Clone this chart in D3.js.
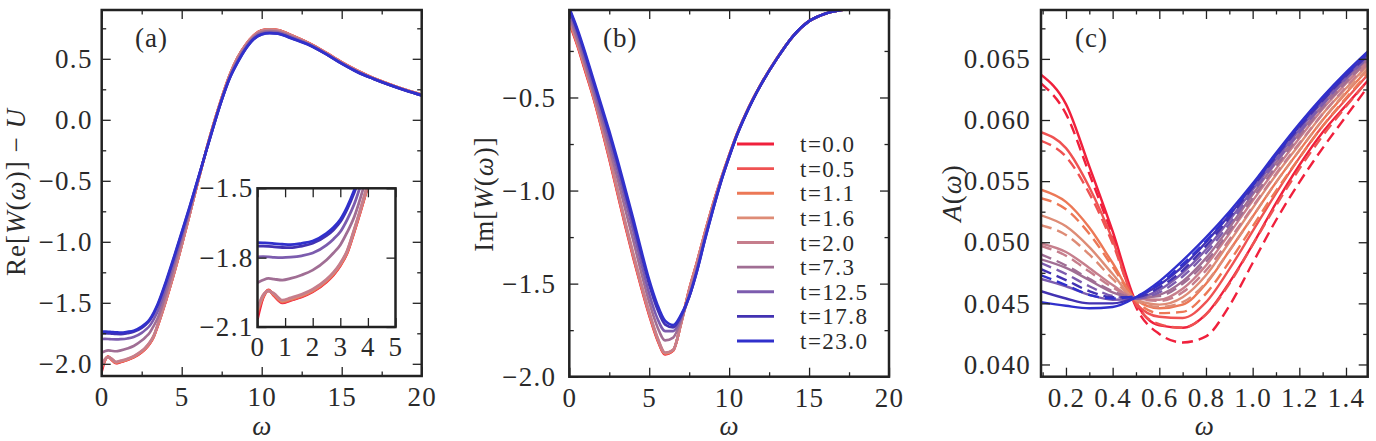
<!DOCTYPE html>
<html>
<head>
<meta charset="utf-8">
<script src="https://cdn.jsdelivr.net/npm/d3@7"></script>
<style>
    body { margin: 0; background: #fff; }
    svg text { font-family: "Liberation Serif", serif !important; fill: #2a2a2a; }
</style>
</head>
<body>
<div id="chart"></div>
<script>

// ---- data ----
const times = ["t=0.0", "t=0.5", "t=1.1", "t=1.6", "t=2.0", "t=7.3", "t=12.5", "t=17.8", "t=23.0"]
const colors = ["#f0203c", "#ef5252", "#ec7856", "#de8c76", "#c67e8c", "#a06e94", "#7c5cae", "#4232b2", "#3030cc"]

// panel (a): Re[W(w)] - U
const omegaA = [0, 0.2, 0.4, 0.6, 0.9, 1.2, 1.6, 2, 2.5, 2.75, 3, 3.25, 3.5, 4, 4.5, 5, 5.5, 6, 6.5, 7, 7.5, 8, 8.5, 9, 9.5, 10, 10.5, 11, 12, 13, 14, 15, 16, 17, 18, 19, 20]
const reW = [
    [-2.065, -1.975, -1.940, -1.965, -1.996, -1.985, -1.970, -1.948, -1.905, -1.875, -1.835, -1.780, -1.690, -1.490, -1.270, -1.030, -0.775, -0.515, -0.265, -0.032, 0.180, 0.368, 0.512, 0.616, 0.692, 0.733, 0.742, 0.736, 0.686, 0.626, 0.552, 0.472, 0.402, 0.342, 0.292, 0.246, 0.206],
    [-2.040, -1.972, -1.942, -1.963, -1.993, -1.983, -1.968, -1.946, -1.903, -1.873, -1.833, -1.778, -1.688, -1.488, -1.268, -1.028, -0.773, -0.514, -0.264, -0.032, 0.179, 0.367, 0.511, 0.615, 0.691, 0.732, 0.741, 0.735, 0.685, 0.625, 0.551, 0.471, 0.401, 0.341, 0.291, 0.245, 0.205],
    [-2.030, -1.968, -1.943, -1.960, -1.990, -1.980, -1.965, -1.943, -1.900, -1.870, -1.830, -1.775, -1.685, -1.485, -1.265, -1.026, -0.771, -0.513, -0.264, -0.033, 0.178, 0.366, 0.510, 0.614, 0.690, 0.731, 0.740, 0.734, 0.684, 0.624, 0.550, 0.470, 0.400, 0.340, 0.290, 0.245, 0.205],
    [-2.025, -1.965, -1.944, -1.958, -1.987, -1.977, -1.962, -1.940, -1.897, -1.867, -1.827, -1.772, -1.682, -1.482, -1.262, -1.024, -0.770, -0.512, -0.264, -0.033, 0.177, 0.365, 0.509, 0.613, 0.689, 0.730, 0.739, 0.733, 0.683, 0.623, 0.549, 0.469, 0.399, 0.339, 0.289, 0.244, 0.204],
    [-2.020, -1.962, -1.945, -1.955, -1.984, -1.974, -1.959, -1.937, -1.894, -1.864, -1.824, -1.769, -1.679, -1.479, -1.259, -1.022, -0.769, -0.511, -0.264, -0.034, 0.176, 0.364, 0.508, 0.612, 0.688, 0.729, 0.738, 0.732, 0.682, 0.622, 0.548, 0.468, 0.398, 0.338, 0.288, 0.244, 0.204],
    [-1.909, -1.897, -1.890, -1.893, -1.897, -1.890, -1.875, -1.854, -1.810, -1.780, -1.745, -1.690, -1.625, -1.430, -1.210, -0.980, -0.745, -0.505, -0.268, -0.042, 0.168, 0.352, 0.492, 0.598, 0.677, 0.717, 0.727, 0.721, 0.673, 0.617, 0.545, 0.465, 0.395, 0.337, 0.287, 0.243, 0.203],
    [-1.797, -1.796, -1.797, -1.799, -1.800, -1.798, -1.792, -1.780, -1.746, -1.720, -1.688, -1.635, -1.570, -1.380, -1.170, -0.950, -0.727, -0.497, -0.268, -0.046, 0.163, 0.345, 0.480, 0.588, 0.668, 0.708, 0.718, 0.713, 0.666, 0.613, 0.542, 0.462, 0.392, 0.336, 0.286, 0.241, 0.201],
    [-1.750, -1.750, -1.751, -1.753, -1.756, -1.757, -1.750, -1.738, -1.705, -1.680, -1.645, -1.590, -1.520, -1.340, -1.140, -0.928, -0.715, -0.492, -0.269, -0.049, 0.161, 0.341, 0.473, 0.582, 0.662, 0.702, 0.712, 0.707, 0.662, 0.611, 0.540, 0.460, 0.390, 0.335, 0.285, 0.240, 0.200],
    [-1.735, -1.736, -1.737, -1.739, -1.742, -1.744, -1.738, -1.728, -1.695, -1.670, -1.635, -1.580, -1.510, -1.330, -1.130, -0.920, -0.710, -0.490, -0.270, -0.050, 0.160, 0.340, 0.470, 0.580, 0.660, 0.700, 0.710, 0.705, 0.660, 0.610, 0.540, 0.460, 0.390, 0.335, 0.285, 0.240, 0.200]
]

// panel (b): Im[W(w)]
const omegaB = [0, 0.5, 1, 1.5, 2, 2.5, 3, 3.5, 4, 4.5, 5, 5.5, 6, 6.5, 7, 7.5, 8, 8.5, 9, 9.5, 10, 10.5, 11, 11.5, 12, 13, 14, 15, 16, 17, 18, 19, 20]
const imW = [
    [-0.100, -0.220, -0.360, -0.500, -0.660, -0.830, -1.010, -1.190, -1.360, -1.520, -1.670, -1.800, -1.880, -1.860, -1.710, -1.530, -1.380, -1.220, -1.070, -0.935, -0.810, -0.693, -0.594, -0.506, -0.427, -0.288, -0.170, -0.090, -0.050, -0.030, -0.020, -0.010, -0.005],
    [-0.095, -0.215, -0.354, -0.495, -0.655, -0.824, -1.004, -1.184, -1.354, -1.515, -1.665, -1.796, -1.877, -1.858, -1.710, -1.532, -1.381, -1.221, -1.071, -0.936, -0.811, -0.694, -0.595, -0.506, -0.427, -0.288, -0.170, -0.090, -0.050, -0.030, -0.020, -0.010, -0.005],
    [-0.090, -0.210, -0.348, -0.490, -0.650, -0.818, -0.998, -1.178, -1.348, -1.510, -1.660, -1.792, -1.875, -1.857, -1.710, -1.534, -1.383, -1.223, -1.073, -0.937, -0.812, -0.695, -0.595, -0.507, -0.428, -0.288, -0.170, -0.090, -0.050, -0.030, -0.020, -0.010, -0.005],
    [-0.086, -0.206, -0.343, -0.485, -0.645, -0.813, -0.993, -1.173, -1.343, -1.505, -1.656, -1.788, -1.873, -1.856, -1.710, -1.536, -1.385, -1.225, -1.075, -0.938, -0.813, -0.695, -0.596, -0.507, -0.428, -0.289, -0.170, -0.090, -0.050, -0.030, -0.020, -0.010, -0.005],
    [-0.082, -0.202, -0.338, -0.480, -0.640, -0.808, -0.988, -1.168, -1.338, -1.500, -1.652, -1.785, -1.870, -1.855, -1.710, -1.538, -1.387, -1.227, -1.077, -0.939, -0.814, -0.696, -0.596, -0.507, -0.428, -0.289, -0.170, -0.090, -0.050, -0.030, -0.020, -0.010, -0.005],
    [-0.060, -0.185, -0.322, -0.468, -0.617, -0.770, -0.930, -1.100, -1.268, -1.440, -1.600, -1.730, -1.805, -1.790, -1.693, -1.565, -1.415, -1.246, -1.089, -0.943, -0.815, -0.697, -0.597, -0.508, -0.428, -0.289, -0.170, -0.090, -0.050, -0.030, -0.020, -0.010, -0.005],
    [-0.040, -0.160, -0.295, -0.440, -0.585, -0.730, -0.885, -1.050, -1.215, -1.390, -1.555, -1.685, -1.755, -1.755, -1.680, -1.570, -1.422, -1.252, -1.094, -0.946, -0.817, -0.698, -0.598, -0.509, -0.429, -0.290, -0.170, -0.090, -0.050, -0.030, -0.020, -0.010, -0.005],
    [-0.025, -0.140, -0.272, -0.413, -0.555, -0.697, -0.848, -1.010, -1.172, -1.343, -1.505, -1.635, -1.720, -1.735, -1.672, -1.572, -1.428, -1.257, -1.098, -0.949, -0.819, -0.700, -0.600, -0.510, -0.430, -0.290, -0.170, -0.090, -0.050, -0.030, -0.020, -0.010, -0.005],
    [-0.020, -0.130, -0.260, -0.400, -0.540, -0.680, -0.830, -0.990, -1.150, -1.320, -1.480, -1.610, -1.700, -1.722, -1.665, -1.570, -1.430, -1.260, -1.100, -0.950, -0.820, -0.700, -0.600, -0.510, -0.430, -0.290, -0.170, -0.090, -0.050, -0.030, -0.020, -0.010, -0.005]
]

// panel (c): A(w), solid and dashed
const omegaC = [0.093, 0.2, 0.3, 0.4, 0.5, 0.6, 0.7, 0.8, 0.9, 1.0, 1.1, 1.2, 1.3, 1.4, 1.493]
const aSolid = [
    [0.0637, 0.0613, 0.0562, 0.0509, 0.0451, 0.0432, 0.0430, 0.0441, 0.0467, 0.0498, 0.0532, 0.0563, 0.0590, 0.0612, 0.0632],
    [0.0590, 0.0577, 0.0545, 0.0502, 0.0450, 0.0439, 0.0438, 0.0451, 0.0478, 0.0509, 0.0540, 0.0569, 0.0595, 0.0617, 0.0637],
    [0.0543, 0.0533, 0.0512, 0.0483, 0.0453, 0.0446, 0.0449, 0.0466, 0.0493, 0.0521, 0.0549, 0.0575, 0.0600, 0.0622, 0.0641],
    [0.0522, 0.0513, 0.0496, 0.0474, 0.0453, 0.0449, 0.0455, 0.0473, 0.0500, 0.0528, 0.0555, 0.0580, 0.0605, 0.0626, 0.0645],
    [0.0499, 0.0492, 0.0479, 0.0465, 0.0454, 0.0453, 0.0462, 0.0481, 0.0507, 0.0534, 0.0560, 0.0585, 0.0609, 0.0630, 0.0648],
    [0.0486, 0.0479, 0.0469, 0.0459, 0.0454, 0.0457, 0.0468, 0.0487, 0.0512, 0.0539, 0.0565, 0.0589, 0.0612, 0.0633, 0.0650],
    [0.0470, 0.0464, 0.0457, 0.0453, 0.0454, 0.0461, 0.0475, 0.0494, 0.0518, 0.0543, 0.0568, 0.0592, 0.0615, 0.0635, 0.0652],
    [0.0460, 0.0454, 0.0450, 0.0450, 0.0455, 0.0465, 0.0480, 0.0500, 0.0522, 0.0546, 0.0571, 0.0595, 0.0617, 0.0637, 0.0654],
    [0.0451, 0.0448, 0.0446, 0.0447, 0.0455, 0.0468, 0.0485, 0.0504, 0.0525, 0.0548, 0.0573, 0.0597, 0.0619, 0.0639, 0.0656]
]
const aDashed = [
    [0.0630, 0.0605, 0.0556, 0.0505, 0.0447, 0.0425, 0.0418, 0.0423, 0.0448, 0.0483, 0.0518, 0.0549, 0.0577, 0.0603, 0.0627],
    [0.0583, 0.0570, 0.0540, 0.0499, 0.0449, 0.0433, 0.0430, 0.0441, 0.0466, 0.0498, 0.0530, 0.0560, 0.0587, 0.0611, 0.0632],
    [0.0536, 0.0527, 0.0507, 0.0480, 0.0452, 0.0442, 0.0443, 0.0458, 0.0484, 0.0513, 0.0542, 0.0569, 0.0595, 0.0618, 0.0638],
    [0.0514, 0.0506, 0.0490, 0.0470, 0.0453, 0.0447, 0.0451, 0.0467, 0.0493, 0.0521, 0.0549, 0.0575, 0.0600, 0.0623, 0.0642],
    [0.0497, 0.0489, 0.0476, 0.0463, 0.0454, 0.0452, 0.0459, 0.0477, 0.0502, 0.0529, 0.0556, 0.0581, 0.0605, 0.0627, 0.0646],
    [0.0490, 0.0481, 0.0470, 0.0460, 0.0455, 0.0456, 0.0466, 0.0484, 0.0509, 0.0536, 0.0562, 0.0587, 0.0610, 0.0631, 0.0649],
    [0.0483, 0.0474, 0.0464, 0.0456, 0.0454, 0.0459, 0.0472, 0.0491, 0.0515, 0.0541, 0.0566, 0.0590, 0.0613, 0.0634, 0.0651],
    [0.0478, 0.0469, 0.0460, 0.0455, 0.0455, 0.0463, 0.0477, 0.0497, 0.0520, 0.0545, 0.0570, 0.0594, 0.0616, 0.0636, 0.0653],
    [0.0473, 0.0465, 0.0457, 0.0454, 0.0456, 0.0466, 0.0482, 0.0501, 0.0523, 0.0547, 0.0572, 0.0596, 0.0618, 0.0638, 0.0655]
]

// tick values
const ticksA = {xMajor: [0, 5, 10, 15, 20], xMinor: [2.5, 7.5, 12.5, 17.5], yMajor: [-2.0, -1.5, -1.0, -0.5, 0.0, 0.5], yMinor: [-1.75, -1.25, -0.75, -0.25, 0.25, 0.75]}
const ticksInset = {xMajor: [0, 1, 2, 3, 4, 5], xMinor: [], yMajor: [-2.1, -1.8, -1.5], yMinor: []}
const ticksB = {xMajor: [0, 5, 10, 15, 20], xMinor: [2.5, 7.5, 12.5, 17.5], yMajor: [-2.0, -1.5, -1.0, -0.5], yMinor: [-1.75, -1.25, -0.75, -0.25]}
const ticksC = {xMajor: [0.2, 0.4, 0.6, 0.8, 1.0, 1.2, 1.4], xMinor: [0.1, 0.3, 0.5, 0.7, 0.9, 1.1, 1.3], yMajor: [0.040, 0.045, 0.050, 0.055, 0.060, 0.065], yMinor: [0.0425, 0.0475, 0.0525, 0.0575, 0.0625, 0.0675]}


const W = 1376, H = 441
const FONT = 27
const SERIF = "Liberation Serif, serif"

const svg = d3.select("#chart").append("svg")
    .attr("width", W)
    .attr("height", H)

let clipId = 0

// serif text helper, style wins over anything the axis sets
function serif(sel, size, spacing) {
    return sel.style("font-family", SERIF)
        .style("font-size", size + "px")
        .style("letter-spacing", (spacing || 0) + "px")
        .attr("fill", "#2a2a2a")
}

// draws frame + inward ticks on all four sides, returns a clipped group for lines
function makeFrame(x, y, t, opt) {
    let g = svg.append("g")
    let [x0, x1] = x.range()
    let [y0, y1] = y.range()   // y0 = bottom, y1 = top

    g.append("rect")
        .attr("x", x0).attr("y", y1)
        .attr("width", x1 - x0).attr("height", y0 - y1)
        .attr("fill", "#fff")

    clipId++
    svg.append("clipPath").attr("id", "clip" + clipId)
        .append("rect")
        .attr("x", x0).attr("y", y1)
        .attr("width", x1 - x0).attr("height", y0 - y1)

    let plot = g.append("g").attr("clip-path", `url(#clip${clipId})`)

    let axes = [
        [d3.axisBottom(x).tickValues(t.xMajor).tickFormat(opt.xFmt).tickPadding(opt.xPad), `translate(0,${y0})`, false],
        [d3.axisTop(x).tickValues(t.xMajor).tickFormat(""), `translate(0,${y1})`, false],
        [d3.axisLeft(y).tickValues(t.yMajor).tickFormat(opt.yFmt).tickPadding(opt.yPad), `translate(${x0},0)`, false],
        [d3.axisRight(y).tickValues(t.yMajor).tickFormat(""), `translate(${x1},0)`, false],
        [d3.axisBottom(x).tickValues(t.xMinor).tickFormat(""), `translate(0,${y0})`, true],
        [d3.axisTop(x).tickValues(t.xMinor).tickFormat(""), `translate(0,${y1})`, true],
        [d3.axisLeft(y).tickValues(t.yMinor).tickFormat(""), `translate(${x0},0)`, true],
        [d3.axisRight(y).tickValues(t.yMinor).tickFormat(""), `translate(${x1},0)`, true]
    ]

    axes.forEach(([ax, tr, minor]) => {
        ax.tickSizeInner(minor ? -4.5 : -9).tickSizeOuter(0)
        let a = g.append("g").attr("transform", tr).call(ax)
        a.select(".domain").remove()
        a.selectAll(".tick line").attr("stroke", "#222").attr("stroke-width", 1.3)
        a.attr("font-family", null).attr("font-size", null)
        serif(a.selectAll("text"), FONT, 1.3)
    })

    g.append("rect")
        .attr("x", x0).attr("y", y1)
        .attr("width", x1 - x0).attr("height", y0 - y1)
        .attr("fill", "none")
        .attr("stroke", "#222")
        .attr("stroke-width", 2.5)

    return {g: g, plot: plot}
}

function drawLines(plot, xs, series, x, y, dash, width, cols) {
    let line = d3.line()
        .x((d, i) => x(xs[i]))
        .y(d => y(d))
        .curve(d3.curveMonotoneX)

    series.forEach((s, i) => {
        plot.append("path")
            .datum(s)
            .attr("fill", "none")
            .attr("stroke", cols[i])
            .attr("stroke-width", width)
            .attr("stroke-dasharray", dash)
            .attr("d", line)
    })
}

function yLabel(xPos, yPos, parts) {
    let t = svg.append("text")
        .attr("transform", `translate(${xPos},${yPos}) rotate(-90)`)
        .attr("text-anchor", "middle")
    serif(t, FONT, 1)
    parts.forEach(p => t.append("tspan").attr("font-style", p[1] ? "italic" : null).text(p[0]))
}

function xLabel(xPos) {
    let t = svg.append("text")
        .attr("x", xPos).attr("y", 435)
        .attr("text-anchor", "middle")
        .attr("font-style", "italic")
        .text("ω")
    serif(t, FONT)
}

function panelTag(xPos, txt) {
    let t = svg.append("text")
        .attr("x", xPos).attr("y", 47)
        .text(txt)
    serif(t, FONT, 1)
}

const f1 = d3.format(".1f")

// ---- panel (a) ----
let xA = d3.scaleLinear().domain([0, 20]).range([101.7, 421.7])
let yA = d3.scaleLinear().domain([-2.1, 0.9]).range([376, 10])
let pa = makeFrame(xA, yA, ticksA, {xFmt: d3.format("d"), yFmt: f1, xPad: 11, yPad: 9})
drawLines(pa.plot, omegaA, reW, xA, yA, null, 2.6, colors)
panelTag(135, "(a)")
xLabel((xA.range()[0] + xA.range()[1]) / 2)
yLabel(25, 192, [["Re[", false], ["W", true], ["(", false], ["ω", true], [")] − ", false], ["U", true]])

// inset of (a)
let xI = d3.scaleLinear().domain([0, 5]).range([257.5, 395.5])
let yI = d3.scaleLinear().domain([-2.1, -1.5]).range([327, 188.3])
let pi = makeFrame(xI, yI, ticksInset, {xFmt: d3.format("d"), yFmt: f1, xPad: 10, yPad: 4})
drawLines(pi.plot, omegaA, reW, xI, yI, null, 2.8, colors)

// ---- panel (b) ----
let xB = d3.scaleLinear().domain([0, 20]).range([569.3, 889])
let yB = d3.scaleLinear().domain([-2.0, -0.03]).range([376.7, 10])
let pb = makeFrame(xB, yB, ticksB, {xFmt: d3.format("d"), yFmt: f1, xPad: 11, yPad: 13})
drawLines(pb.plot, omegaB, imW, xB, yB, null, 2.6, colors)
panelTag(603, "(b)")
xLabel((xB.range()[0] + xB.range()[1]) / 2)
yLabel(493, 194, [["Im[", false], ["W", true], ["(", false], ["ω", true], [")]", false]])

// legend
let rowY = d3.scaleLinear().domain([0, 8]).range([144, 341])
let legend = svg.append("g")
times.forEach((t, i) => {
    legend.append("line")
        .attr("x1", 737).attr("x2", 774)
        .attr("y1", rowY(i)).attr("y2", rowY(i))
        .attr("stroke", colors[i])
        .attr("stroke-width", 2.8)
    let lt = legend.append("text")
        .attr("x", 800).attr("y", rowY(i) + 8)
        .text(t)
    serif(lt, 23, 1.5)
})

// ---- panel (c) ----
let xC = d3.scaleLinear().domain([0.093, 1.493]).range([1041, 1367.7])
let yC = d3.scaleLinear().domain([0.039, 0.069]).range([376.7, 10])
let pc = makeFrame(xC, yC, ticksC, {xFmt: f1, yFmt: d3.format(".3f"), xPad: 11, yPad: 10})
aSolid.forEach((s, i) => {
    drawLines(pc.plot, omegaC, [s], xC, yC, null, 2.4, [colors[i]])
    drawLines(pc.plot, omegaC, [aDashed[i]], xC, yC, "11,6", 2.4, [colors[i]])
})
panelTag(1075, "(c)")
xLabel((xC.range()[0] + xC.range()[1]) / 2)
yLabel(961, 193, [["A", true], ["(", false], ["ω", true], [")", false]])

</script>
</body>
</html>
